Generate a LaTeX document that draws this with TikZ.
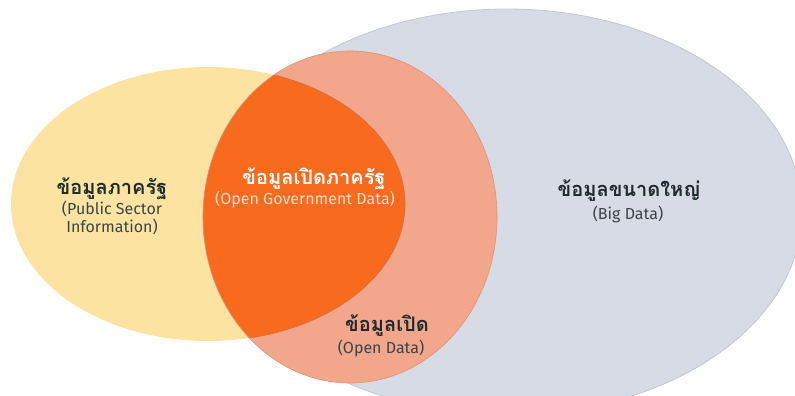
\documentclass[tikz,border=0pt]{standalone}
\usepackage{fontspec}
\setmainfont{Fira Sans}
\newfontfamily\thaifont[Script=Thai]{Loma}
\definecolor{psiyellow}{HTML}{FCE3A1}
\definecolor{opensalmon}{HTML}{F2A68B}
\definecolor{salmonline}{HTML}{E38F75}
\definecolor{ogdorange}{HTML}{F86B1F}
\definecolor{ogdline}{HTML}{DC6A3A}
\definecolor{biggrey}{HTML}{D6DBE5}
\definecolor{biggreyline}{HTML}{C2C7D0}
\definecolor{headdark}{HTML}{1F2B2C}
\definecolor{subdark}{HTML}{3B4547}
\definecolor{ogdsubtext}{HTML}{FDDCC8}
\tikzset{
    headtext/.style={font=\thaifont\bfseries\fontsize{20}{22}\selectfont,text=headdark,inner sep=0pt,anchor=base},
    subtext/.style={font=\fontsize{16}{18}\selectfont,text=subdark,inner sep=0pt,anchor=base},
    psiset/.style={x radius=197,y radius=137},
    openset/.style={x radius=147,y radius=166},
    bigset/.style={x radius=295,y radius=203}
}

\begin{document}
\begin{tikzpicture}[x=1pt,y=-1pt]
    \useasboundingbox (0,0) rectangle (795,396);
    \clip (0,0) rectangle (795,396);

    \coordinate (PSI) at (208,204);
    \coordinate (OPEN) at (350,217);
    \coordinate (BIG) at (507,212);

    \filldraw[fill=biggrey,draw=biggreyline,line width=0.8pt] (BIG) ellipse [bigset];
    \fill[psiyellow] (PSI) ellipse [psiset];
    \fill[opensalmon] (OPEN) ellipse [openset];

    \begin{scope}
        \clip (PSI) ellipse [psiset];
        \fill[ogdorange] (OPEN) ellipse [openset];
    \end{scope}
    \begin{scope}
        \clip (OPEN) ellipse [openset];
        \draw[ogdline,line width=0.6pt] (PSI) ellipse [psiset];
    \end{scope}
    \draw[salmonline,line width=0.6pt] (OPEN) ellipse [openset];

    \node[headtext] (psi) at (112,194) {ข้อมูลภาครัฐ};
    \node[subtext] (psisub) at (112,214) {(Public Sector};
    \node[subtext] (psisubb) at (112,232) {Information)};

    \node[headtext,text=white] (ogd) at (314,184) {ข้อมูลเปิดภาครัฐ};
    \node[subtext,text=ogdsubtext] (ogdsub) at (305,204) {(Open Government Data)};

    \node[headtext] (open) at (387,331) {ข้อมูลเปิด};
    \node[subtext] (opensub) at (381,353) {(Open Data)};

    \node[headtext] (big) at (629,196) {ข้อมูลขนาดใหญ่};
    \node[subtext] (bigsub) at (628,219) {(Big Data)};
\end{tikzpicture}
\end{document}
